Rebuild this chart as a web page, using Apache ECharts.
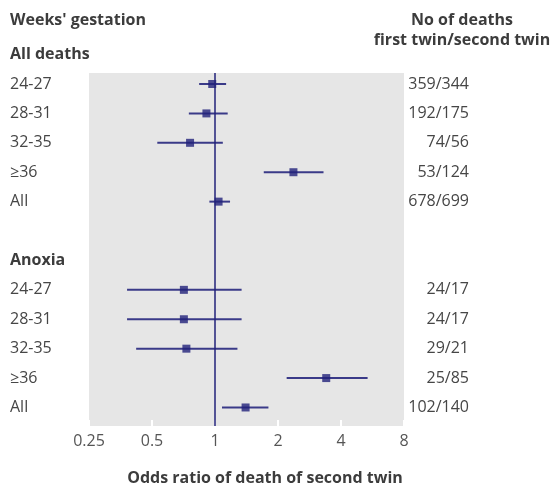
<!DOCTYPE html>
<html>
<head>
<meta charset="utf-8">
<script src="https://cdn.jsdelivr.net/npm/echarts@6/dist/echarts.min.js"></script>
<style>
  html, body { margin: 0; padding: 0; background: #fff; }
  #chart { width: 557px; height: 485px; }
</style>
</head>
<body>
<div id="chart"></div>
<script>
// 数据
const rowLabels = ['24-27', '28-31', '32-35', '≥36', 'All']
const allOR = [0.97, 0.91, 0.76, 2.37, 1.04]
const allLow = [0.84, 0.75, 0.53, 1.71, 0.94]
const allHigh = [1.13, 1.15, 1.09, 3.3, 1.18]
const allCounts = ['359/344', '192/175', '74/56', '53/124', '678/699']
const anoxOR = [0.71, 0.71, 0.73, 3.4, 1.4]
const anoxLow = [0.38, 0.38, 0.42, 2.2, 1.08]
const anoxHigh = [1.34, 1.34, 1.28, 5.36, 1.8]
const anoxCounts = ['24/17', '24/17', '29/21', '25/85', '102/140']
const xTicks = [0.25, 0.5, 1, 2, 4, 8]

// 行位置: All deaths 0-4, Anoxia 7-11
const allRows = [0, 1, 2, 3, 4]
const anoxRows = [7, 8, 9, 10, 11]

const font = '"Open Sans", "Noto Sans", sans-serif'
const navy = '#22227a'
const textColor = '#464646'

const points = []
const bars = []
allRows.forEach((r, i) => {
  points.push([allOR[i], r])
  bars.push([allLow[i], allHigh[i], r])
})
anoxRows.forEach((r, i) => {
  points.push([anoxOR[i], r])
  bars.push([anoxLow[i], anoxHigh[i], r])
})

const chart = echarts.init(document.getElementById('chart'))
chart.setOption({
  animation: false,
  grid: {
    left: 89,
    right: 153,
    top: 73,
    bottom: 59,
    show: true,
    backgroundColor: '#e6e6e6',
    borderWidth: 0
  },
  xAxis: {
    type: 'log',
    logBase: 2,
    min: 0.25,
    max: 8,
    interval: 1,
    position: 'bottom',
    axisLine: { show: false, onZero: false },
    axisTick: { show: true, inside: true, length: 6, lineStyle: { color: '#fff', width: 2 } },
    splitLine: { show: false },
    axisLabel: {
      margin: 7,
      color: '#555',
      fontFamily: font,
      fontSize: 16,
      formatter: (v) => {
        const hit = xTicks.find((t) => Math.abs(t - v) < 1e-6)
        return hit === undefined ? '' : String(hit)
      }
    }
  },
  yAxis: {
    type: 'value',
    inverse: true,
    min: -0.374,
    max: 11.63,
    show: false
  },
  series: [
    {
      type: 'custom',
      data: bars,
      z: 2,
      renderItem: (params, api) => {
        const a = api.coord([api.value(0), api.value(2)])
        const b = api.coord([api.value(1), api.value(2)])
        return {
          type: 'line',
          shape: { x1: a[0], y1: a[1], x2: b[0], y2: b[1] },
          style: { stroke: '#3a3a88', lineWidth: 2 }
        }
      }
    },
    {
      type: 'scatter',
      data: points,
      symbol: 'rect',
      symbolSize: 8,
      itemStyle: { color: navy },
      z: 4,
      markLine: {
        silent: true,
        symbol: 'none',
        label: { show: false },
        lineStyle: { color: navy, width: 1.5, type: 'solid' },
        data: [{ xAxis: 1 }]
      }
    }
  ]
})

// 文字标签
const yPix = (r) => chart.convertToPixel({ yAxisIndex: 0 }, r)
const txt = (text, x, y, opt) => ({
  type: 'text',
  x: x,
  y: y,
  style: Object.assign({
    text: text,
    fill: textColor,
    font: '16px ' + font,
    textAlign: 'left',
    textVerticalAlign: 'middle'
  }, opt || {})
})
const boldFont = 'bold 16px ' + font
const graphics = []
graphics.push(txt("Weeks' gestation", 10, 20, { font: boldFont, fill: '#3c3c3c' }))
graphics.push(txt('No of deaths', 462, 20, { font: boldFont, fill: '#3c3c3c', textAlign: 'center' }))
graphics.push(txt('first twin/second twin', 462, 40, { font: boldFont, fill: '#3c3c3c', textAlign: 'center' }))
graphics.push(txt('All deaths', 10, yPix(-1), { font: boldFont, fill: '#3c3c3c' }))
graphics.push(txt('Anoxia', 10, yPix(6), { font: boldFont, fill: '#3c3c3c' }))
allRows.forEach((r, i) => {
  graphics.push(txt(rowLabels[i], 10, yPix(r)))
  graphics.push(txt(allCounts[i], 469, yPix(r), { textAlign: 'right' }))
})
anoxRows.forEach((r, i) => {
  graphics.push(txt(rowLabels[i], 10, yPix(r)))
  graphics.push(txt(anoxCounts[i], 469, yPix(r), { textAlign: 'right' }))
})
graphics.push(txt('Odds ratio of death of second twin', 265, 478, { font: boldFont, fill: '#3c3c3c', textAlign: 'center' }))
chart.setOption({ graphic: graphics })
</script>
</body>
</html>
